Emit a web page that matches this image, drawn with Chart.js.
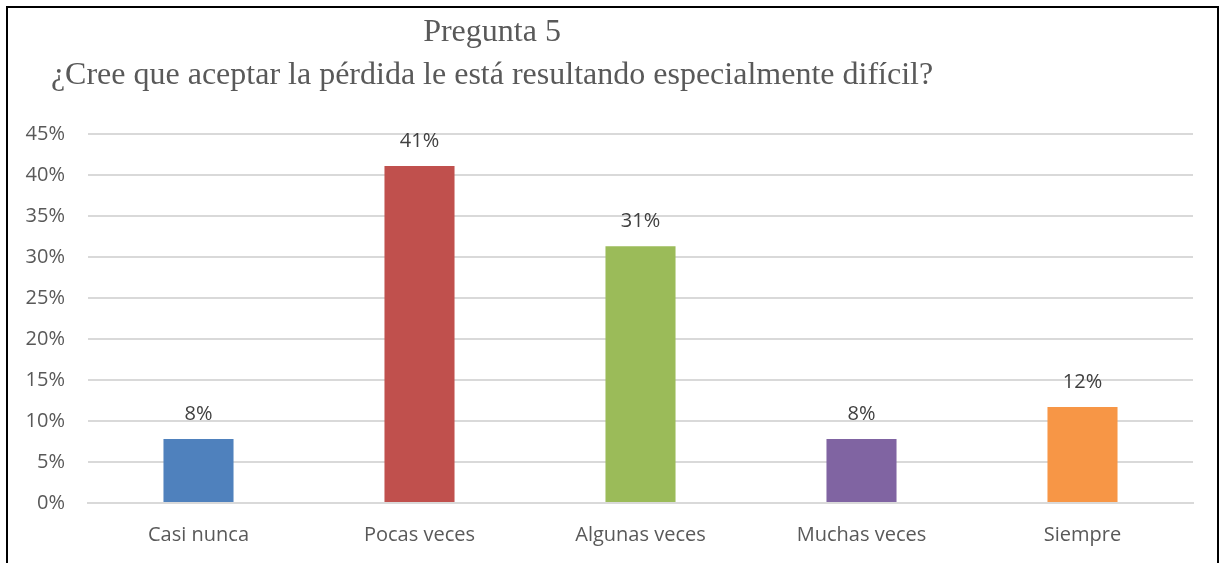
<!DOCTYPE html>
<html lang="es">
  <head>
    <meta charset="UTF-8" />
    <title>Pregunta 5</title>
    <script src="https://cdn.jsdelivr.net/npm/chart.js"></script>
    <style>
      html, body { margin: 0; padding: 0; background: #fff; overflow: hidden; }
      #frame {
        position: absolute; left: 6px; top: 6px; width: 1209px; height: 600px;
        border: 2px solid #000; border-bottom: none;
      }
      #wrap { position: absolute; left: 0; top: 0; width: 1225px; height: 563px; }
    </style>
  </head>
  <body>
    <div id="frame"></div>
    <div id="wrap"><canvas id="chart"></canvas></div>

    <script>
      // Datos del gráfico
      const categories = ["Casi nunca", "Pocas veces", "Algunas veces", "Muchas veces", "Siempre"];
      const values = [7.8, 41.1, 31.3, 7.8, 11.7];
      const barColors = ["#4F81BD", "#C0504D", "#9BBB59", "#8064A2", "#F79646"];
      const titleLines = ["Pregunta 5", "¿Cree que aceptar la pérdida le está resultando especialmente difícil?"];
      const yMax = 45;
      const yStep = 5;

      const axisFont = "'Open Sans'";

      // Título en fuente serif
      const titlePlugin = {
        id: "titlePlugin",
        afterDraw(chart) {
          const c = chart.ctx;
          c.save();
          c.font = "32px 'Liberation Serif'";
          c.fillStyle = "#595959";
          c.textAlign = "center";
          c.textBaseline = "alphabetic";
          c.fillText(titleLines[0], 492, 41);
          c.fillText(titleLines[1], 492, 84);
          c.restore();
        },
      };

      // Etiquetas de valor sobre las barras
      const labelPlugin = {
        id: "labelPlugin",
        afterDatasetsDraw(chart) {
          const c = chart.ctx;
          const meta = chart.getDatasetMeta(0);
          c.save();
          c.font = "20px " + axisFont;
          c.fillStyle = "#404040";
          c.textAlign = "center";
          c.textBaseline = "middle";
          meta.data.forEach((bar, i) => {
            c.fillText(Math.round(values[i]) + "%", bar.x, bar.y - 25);
          });
          c.restore();
        },
      };

      const ctx = document.getElementById("chart").getContext("2d");
      new Chart(ctx, {
        type: "bar",
        data: {
          labels: categories,
          datasets: [
            {
              data: values,
              backgroundColor: barColors,
              borderWidth: 0,
              categoryPercentage: 1,
              barPercentage: 0.317,
            },
          ],
        },
        options: {
          responsive: true,
          maintainAspectRatio: false,
          animation: false,
          layout: { padding: { top: 134, right: 32, left: 0, bottom: 0 } },
          plugins: {
            legend: { display: false },
            tooltip: { enabled: false },
          },
          scales: {
            x: {
              grid: { display: false },
              border: { display: true, color: "#d9d9d9", width: 2 },
              ticks: { color: "#595959", font: { family: axisFont, size: 20 }, padding: 12 },
              afterFit(scale) { scale.height = 60; },
            },
            y: {
              min: 0,
              max: yMax,
              grid: { color: "#d9d9d9", lineWidth: 2, drawTicks: false },
              border: { display: false },
              ticks: {
                stepSize: yStep,
                color: "#595959",
                font: { family: axisFont, size: 20 },
                padding: 23,
                callback: (v) => v + "%",
              },
              afterFit(scale) { scale.width = 88; },
            },
          },
        },
        plugins: [titlePlugin, labelPlugin],
      });
    </script>
  </body>
</html>
